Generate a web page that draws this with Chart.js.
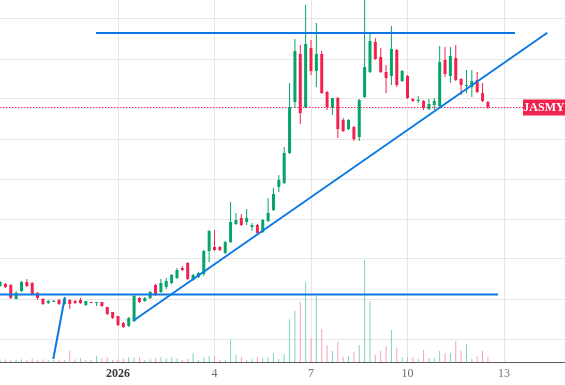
<!DOCTYPE html>
<html lang="en">
<head>
<meta charset="UTF-8">
<title>JASMY 4h</title>
<script src="https://cdn.jsdelivr.net/npm/chart.js@4.4.1/dist/chart.umd.min.js"></script>
<style>
  html, body { margin: 0; padding: 0; background: #fff; }
</style>
</head>
<body>
<canvas id="chart" width="565" height="385"></canvas>
<script>
const symbol = 'JASMY';

// 4h candles, index 22 = Jan 1 2026 00:00
const opens = [
  0.00613, 0.00615, 0.00614, 0.00600, 0.00608, 0.00617, 0.00616, 0.00606, 0.00600, 0.00596,
  0.00597, 0.00599, 0.00595, 0.00599, 0.00598, 0.00599, 0.00594, 0.00597, 0.00596, 0.00597,
  0.00592, 0.00587, 0.00583, 0.00576, 0.00573, 0.00578, 0.00601, 0.00598, 0.00601, 0.00614,
  0.00607, 0.00612, 0.00616, 0.00621, 0.00631, 0.00636, 0.00619, 0.00622, 0.00625, 0.00648,
  0.00652, 0.00652, 0.00646, 0.00657, 0.00675, 0.00681, 0.00677, 0.00672, 0.00674, 0.00667,
  0.00678, 0.00689, 0.00712, 0.00716, 0.00746, 0.00797, 0.00845, 0.00792, 0.00851, 0.00828,
  0.00845, 0.00807, 0.00792, 0.00801, 0.00779, 0.00770, 0.00772, 0.00762, 0.00802, 0.00827,
  0.00857, 0.00842, 0.00827, 0.00823, 0.00849, 0.00818, 0.00823, 0.00800, 0.00798, 0.00798,
  0.00790, 0.00794, 0.00793, 0.00839, 0.00823, 0.00841, 0.00820, 0.00813, 0.00812, 0.00819,
  0.00806, 0.00797
];
const highs = [
  0.00618, 0.00616, 0.00615, 0.00608, 0.00618, 0.00620, 0.00617, 0.00607, 0.00601, 0.00599,
  0.00599, 0.00600, 0.00601, 0.00600, 0.00599, 0.00601, 0.00598, 0.00597, 0.00597, 0.00597,
  0.00592, 0.00587, 0.00583, 0.00577, 0.00582, 0.00604, 0.00602, 0.00602, 0.00608, 0.00615,
  0.00620, 0.00621, 0.00625, 0.00631, 0.00633, 0.00637, 0.00625, 0.00627, 0.00649, 0.00669,
  0.00669, 0.00653, 0.00658, 0.00697, 0.00686, 0.00685, 0.00690, 0.00676, 0.00675, 0.00680,
  0.00701, 0.00711, 0.00724, 0.00752, 0.00816, 0.00860, 0.00854, 0.00894, 0.00859, 0.00876,
  0.00848, 0.00808, 0.00801, 0.00802, 0.00781, 0.00780, 0.00773, 0.00800, 0.00905, 0.00866,
  0.00861, 0.00851, 0.00834, 0.00873, 0.00850, 0.00829, 0.00824, 0.00801, 0.00803, 0.00799,
  0.00800, 0.00801, 0.00853, 0.00852, 0.00852, 0.00854, 0.00821, 0.00829, 0.00829, 0.00827,
  0.00816, 0.00798
];
const lows = [
  0.00612, 0.00611, 0.00600, 0.00600, 0.00607, 0.00612, 0.00604, 0.00599, 0.00594, 0.00595,
  0.00597, 0.00594, 0.00594, 0.00590, 0.00595, 0.00595, 0.00593, 0.00596, 0.00593, 0.00592,
  0.00584, 0.00580, 0.00573, 0.00571, 0.00572, 0.00577, 0.00596, 0.00597, 0.00600, 0.00603,
  0.00606, 0.00610, 0.00615, 0.00620, 0.00628, 0.00619, 0.00618, 0.00621, 0.00623, 0.00637,
  0.00648, 0.00648, 0.00645, 0.00656, 0.00674, 0.00673, 0.00674, 0.00668, 0.00664, 0.00666,
  0.00677, 0.00688, 0.00707, 0.00715, 0.00745, 0.00791, 0.00775, 0.00791, 0.00824, 0.00812,
  0.00805, 0.00789, 0.00784, 0.00761, 0.00767, 0.00769, 0.00758, 0.00758, 0.00801, 0.00826,
  0.00839, 0.00826, 0.00806, 0.00814, 0.00812, 0.00817, 0.00800, 0.00797, 0.00796, 0.00789,
  0.00789, 0.00789, 0.00792, 0.00822, 0.00816, 0.00818, 0.00804, 0.00806, 0.00802, 0.00806,
  0.00797, 0.00790
];
const closes = [
  0.00617, 0.00612, 0.00601, 0.00606, 0.00617, 0.00613, 0.00605, 0.00601, 0.00595, 0.00598,
  0.00598, 0.00595, 0.00600, 0.00595, 0.00596, 0.00596, 0.00598, 0.00596, 0.00597, 0.00593,
  0.00585, 0.00581, 0.00574, 0.00572, 0.00581, 0.00603, 0.00597, 0.00601, 0.00607, 0.00604,
  0.00616, 0.00618, 0.00624, 0.00629, 0.00629, 0.00620, 0.00624, 0.00626, 0.00648, 0.00668,
  0.00649, 0.00649, 0.00657, 0.00677, 0.00679, 0.00674, 0.00681, 0.00674, 0.00666, 0.00679,
  0.00686, 0.00705, 0.00719, 0.00746, 0.00792, 0.00848, 0.00786, 0.00855, 0.00828, 0.00845,
  0.00806, 0.00792, 0.00801, 0.00770, 0.00768, 0.00779, 0.00760, 0.00799, 0.00832, 0.00858,
  0.00840, 0.00827, 0.00821, 0.00850, 0.00814, 0.00828, 0.00801, 0.00798, 0.00799, 0.00791,
  0.00795, 0.00798, 0.00837, 0.00825, 0.00843, 0.00819, 0.00814, 0.00814, 0.00818, 0.00807,
  0.00798, 0.00792
];
// volume, millions
const volumes = [
  20, 27, 20, 20, 27, 20, 37, 20, 27, 20,
  20, 20, 20, 110, 27, 37, 20, 20, 60, 37,
  47, 20, 27, 37, 47, 47, 47, 20, 27, 37,
  47, 37, 47, 37, 20, 30, 93, 20, 47, 60,
  60, 20, 20, 227, 67, 50, 20, 27, 47, 37,
  47, 87, 30, 80, 427, 510, 600, 800, 240, 660,
  330, 170, 110, 200, 53, 60, 103, 170, 1020, 610,
  70, 110, 160, 320, 143, 50, 50, 50, 30, 120,
  40, 40, 110, 90, 90, 210, 110, 180, 30, 60,
  110, 50
];

const tickIdx = [22, 40, 58, 76, 94];
const tickLabels = ['2026', '4', '7', '10', '13'];
const gridPrices = [0.0056, 0.0060, 0.0064, 0.0068, 0.0072, 0.0076, 0.0080, 0.0084, 0.0088];

// drawn lines: [candle index, price]
const resistance = [[17.9, 0.00866], [96.05, 0.00866]];
const support = [[-0.5, 0.006045], [92.9, 0.006045]];
const risingLine = [[24.85, 0.005783], [102.08, 0.008663]];
const spikeLine = [[9.93, 0.00540], [12.1, 0.00602]];

const UP = '#05a468';
const DOWN = '#f2224f';
const VOL_UP = '#80d3c5';
const VOL_DOWN = '#f9a1ae';
const BLUE = '#0b78e3';

const xMin = -0.0104, xMax = 105.378;
const idx = opens.map((_, i) => i);
const up = idx.map(i => closes[i] >= opens[i]);
const lastClose = closes[closes.length - 1];
const lastColor = up[up.length - 1] ? UP : DOWN;
const toPts = arr => arr.map(p => ({ x: p[0], y: p[1] }));

// dotted last-price line (under the candles) and the symbol tag on the right
const lastPrice = {
    id: 'lastPrice',
    beforeDatasetsDraw(chart) {
        const { ctx, chartArea, scales } = chart;
        const y = Math.round(scales.y.getPixelForValue(lastClose)) + 0.5;
        ctx.save();
        ctx.strokeStyle = lastColor;
        ctx.lineWidth = 1;
        ctx.setLineDash([1.5, 1.5]);
        ctx.beginPath();
        ctx.moveTo(chartArea.left, y);
        ctx.lineTo(chartArea.right, y);
        ctx.stroke();
        ctx.restore();
    },
    afterDatasetsDraw(chart) {
        const { ctx, chartArea, scales } = chart;
        const y = Math.round(scales.y.getPixelForValue(lastClose));
        const w = 42, h = 16;
        const x = chartArea.right - w;
        ctx.save();
        ctx.fillStyle = lastColor;
        ctx.fillRect(x, y - h / 2 + 0.5, w, h);
        ctx.fillStyle = '#fff';
        ctx.font = 'bold 12px "Liberation Serif"';
        ctx.textAlign = 'center';
        ctx.textBaseline = 'middle';
        ctx.fillText(symbol, x + w / 2, y + 1);
        ctx.restore();
    }
};

const barCommon = { grouped: false, inflateAmount: 0, borderWidth: 0 };
const lineCommon = { type: 'line', borderColor: BLUE, borderWidth: 2, pointRadius: 0, order: 0 };

new Chart(document.getElementById('chart'), {
    type: 'bar',
    data: {
        datasets: [
            Object.assign({ data: toPts(resistance) }, lineCommon),
            Object.assign({ data: toPts(support) }, lineCommon),
            Object.assign({ data: toPts(risingLine) }, lineCommon),
            Object.assign({ data: toPts(spikeLine) }, lineCommon),
            Object.assign({
                data: idx.map(i => ({ x: i, y: [opens[i], closes[i]] })),
                backgroundColor: idx.map(i => up[i] ? UP : DOWN),
                barThickness: 3, minBarLength: 1, order: 2
            }, barCommon),
            Object.assign({
                data: idx.map(i => ({ x: i, y: [lows[i], highs[i]] })),
                backgroundColor: idx.map(i => up[i] ? UP : DOWN),
                barThickness: 1, order: 3
            }, barCommon),
            Object.assign({
                data: idx.map(i => ({ x: i, y: volumes[i] })),
                backgroundColor: idx.map(i => up[i] ? VOL_UP : VOL_DOWN),
                barThickness: 1, yAxisID: 'v', order: 4
            }, barCommon)
        ]
    },
    options: {
        responsive: false,
        animation: false,
        devicePixelRatio: 1,
        layout: { padding: 0 },
        plugins: { legend: { display: false }, tooltip: { enabled: false } },
        scales: {
            x: {
                type: 'linear', min: xMin, max: xMax, offset: false,
                afterBuildTicks: s => { s.ticks = tickIdx.map(v => ({ value: v })); },
                afterFit: s => { s.height = 23; },
                ticks: {
                    autoSkip: false, maxRotation: 0, padding: 5,
                    callback: (v, i) => tickLabels[i],
                    color: c => c.index === 0 ? '#3a3a3a' : '#707070',
                    font: c => ({ family: '"Liberation Serif"', size: 12, weight: c.index === 0 ? 'bold' : 'normal' })
                },
                grid: { color: '#e6e6e6', drawTicks: false, offset: false },
                border: { display: true, color: '#5a5a5a', width: 1 }
            },
            y: {
                type: 'linear', min: 0.00537, max: 0.00899, beginAtZero: false,
                afterBuildTicks: s => { s.ticks = gridPrices.map(v => ({ value: v })); },
                ticks: { display: false },
                grid: { color: '#e6e6e6', drawTicks: false },
                border: { display: false }
            },
            v: { type: 'linear', display: false, min: 0, max: 3620 }
        }
    },
    plugins: [lastPrice]
});
</script>
</body>
</html>
